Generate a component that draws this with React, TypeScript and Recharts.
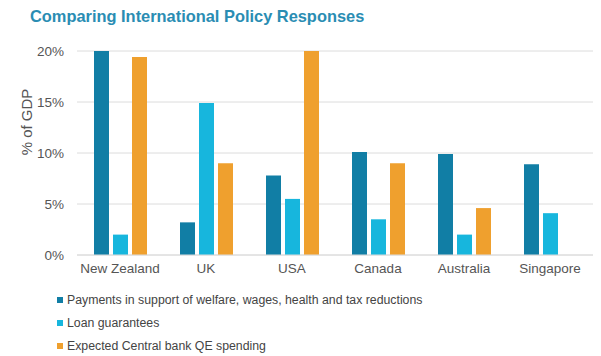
import { BarChart, Bar, XAxis, YAxis, CartesianGrid } from 'recharts';

const countries = ['New Zealand', 'UK', 'USA', 'Canada', 'Australia', 'Singapore'];
const payments = [20, 3.2, 7.8, 10.1, 9.9, 8.9];
const loans = [2.0, 14.9, 5.5, 3.5, 2.0, 4.1];
const qe: (number | null)[] = [19.4, 9.0, 20, 9.0, 4.6, null];
const yTicks = [0, 5, 10, 15, 20];

const series = [
  { key: 'payments', name: 'Payments in support of welfare, wages, health and tax reductions', color: '#117ea5' },
  { key: 'loans', name: 'Loan guarantees', color: '#17b6dd' },
  { key: 'qe', name: 'Expected Central bank QE spending', color: '#efa02e' },
];

const data = countries.map((c, i) => ({
  country: c,
  payments: payments[i],
  loans: loans[i],
  qe: qe[i],
}));

const font = '"Liberation Sans", Arial, sans-serif';

const YLabel = () => (
  <text
    x={26}
    y={122}
    transform="rotate(-90 26 122)"
    textAnchor="middle"
    dominantBaseline="central"
    fill="#555"
    fontSize={15}
    fontFamily={font}
  >
    % of GDP
  </text>
);

export default function App() {
  return (
    <div style={{ position: 'absolute', top: 0, left: 0, width: 601, height: 356, background: '#fff', fontFamily: font }}>
      <div
        style={{
          position: 'absolute',
          left: 30,
          top: 7,
          fontSize: 16.4,
          fontWeight: 'bold',
          color: '#2a8db3',
          whiteSpace: 'nowrap',
        }}
      >
        Comparing International Policy Responses
      </div>
      <BarChart
        width={601}
        height={356}
        data={data}
        margin={{ top: 51, right: 8, left: 0, bottom: 71 }}
        barGap={4}
        barSize={15}
      >
        <CartesianGrid vertical={false} stroke="#dcdcdc" />
        <XAxis
          dataKey="country"
          axisLine={{ stroke: '#dcdcdc' }}
          tickLine={false}
          height={30}
          tick={{ fill: '#555', fontSize: 13.5, fontFamily: font }}
        />
        <YAxis
          width={77}
          domain={[0, 20]}
          ticks={yTicks}
          tickFormatter={(v: number) => `${v}%`}
          axisLine={false}
          tickLine={false}
          tick={{ fill: '#555', fontSize: 13.5, fontFamily: font, dx: -5 }}
          label={<YLabel />}
        />
        {series.map((s) => (
          <Bar key={s.key} dataKey={s.key} name={s.name} fill={s.color} isAnimationActive={false} />
        ))}
      </BarChart>
      <div style={{ position: 'absolute', left: 57, top: 288, fontSize: 12.3, color: '#444' }}>
        {series.map((s) => (
          <div key={s.key} style={{ display: 'flex', alignItems: 'center', height: 23 }}>
            <span style={{ width: 6, height: 6, background: s.color, marginRight: 4 }} />
            <span>{s.name}</span>
          </div>
        ))}
      </div>
    </div>
  );
}
